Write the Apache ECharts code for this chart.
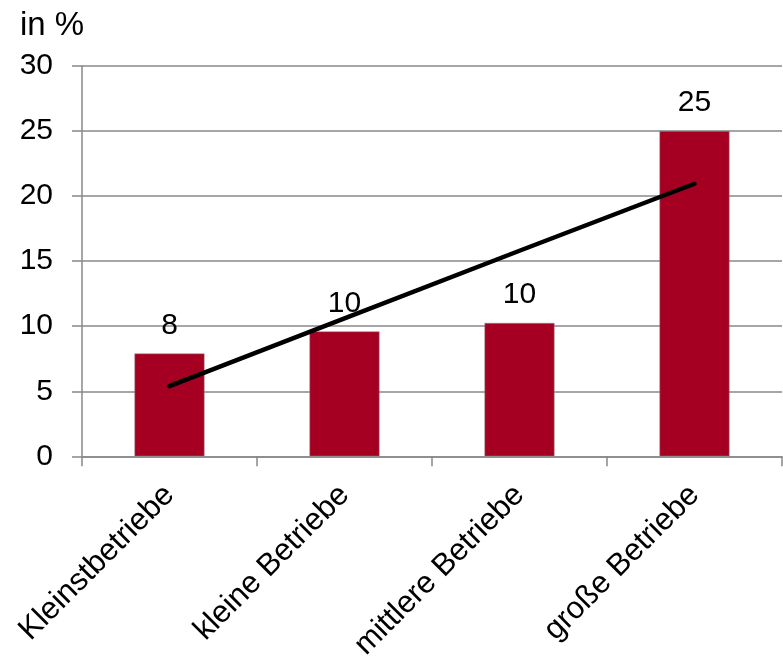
<!DOCTYPE html>
<html>
<head>
<meta charset="utf-8">
<script src="https://cdn.jsdelivr.net/npm/echarts@6/dist/echarts.min.js"></script>
<style>html,body{margin:0;padding:0;background:#fff}#c{width:783px;height:663px}</style>
</head>
<body>
<div id="c"></div>
<script>
const categories = ["Kleinstbetriebe", "kleine Betriebe", "mittlere Betriebe", "große Betriebe"];
const barValues = [7.9, 9.6, 10.25, 25.0];
const barLabels = ["8", "10", "10", "25"];
const trendValues = [5.4, 10.6, 15.8, 20.95];
const yTicks = { min: 0, max: 30, interval: 5 };
const unitLabel = "in %";

const chart = echarts.init(document.getElementById('c'), null, { renderer: 'canvas' });
const font = 'Liberation Sans, Arial, sans-serif';
chart.setOption({
  animation: false,
  backgroundColor: '#fff',
  title: {
    text: unitLabel, left: 15, top: 4,
    textStyle: { fontFamily: font, fontSize: 33, fontWeight: 'normal', color: '#000' }
  },
  grid: { left: 82, right: 1, top: 66, bottom: 206, containLabel: false },
  xAxis: {
    type: 'category', data: categories,
    axisLine: { lineStyle: { color: '#888', width: 1.5 } },
    axisTick: { show: true, length: 10, lineStyle: { color: '#888', width: 1.5 } },
    axisLabel: { interval: 0, rotate: 45, margin: 34, fontFamily: font, fontSize: 31, color: '#000' }
  },
  yAxis: {
    type: 'value', min: yTicks.min, max: yTicks.max, interval: yTicks.interval,
    axisLine: { show: true, lineStyle: { color: '#888', width: 1.5 } },
    axisTick: { show: true, length: 10, lineStyle: { color: '#888', width: 1.5 } },
    splitLine: { lineStyle: { color: '#888', width: 1.5 } },
    axisLabel: { margin: 29, fontFamily: font, fontSize: 30, color: '#000' }
  },
  series: [
    {
      type: 'bar', data: barValues, barWidth: '40%',
      itemStyle: { color: '#A50021', borderColor: '#9a8a8c', borderWidth: 0.5 },
      label: {
        show: true, position: 'top', distance: 13,
        fontFamily: font, fontSize: 30, color: '#000',
        formatter: p => barLabels[p.dataIndex]
      }
    },
    {
      type: 'line', data: trendValues, symbol: 'none', z: 5,
      lineStyle: { color: '#000', width: 4.5, cap: 'round' }
    }
  ]
});
</script>
</body>
</html>
